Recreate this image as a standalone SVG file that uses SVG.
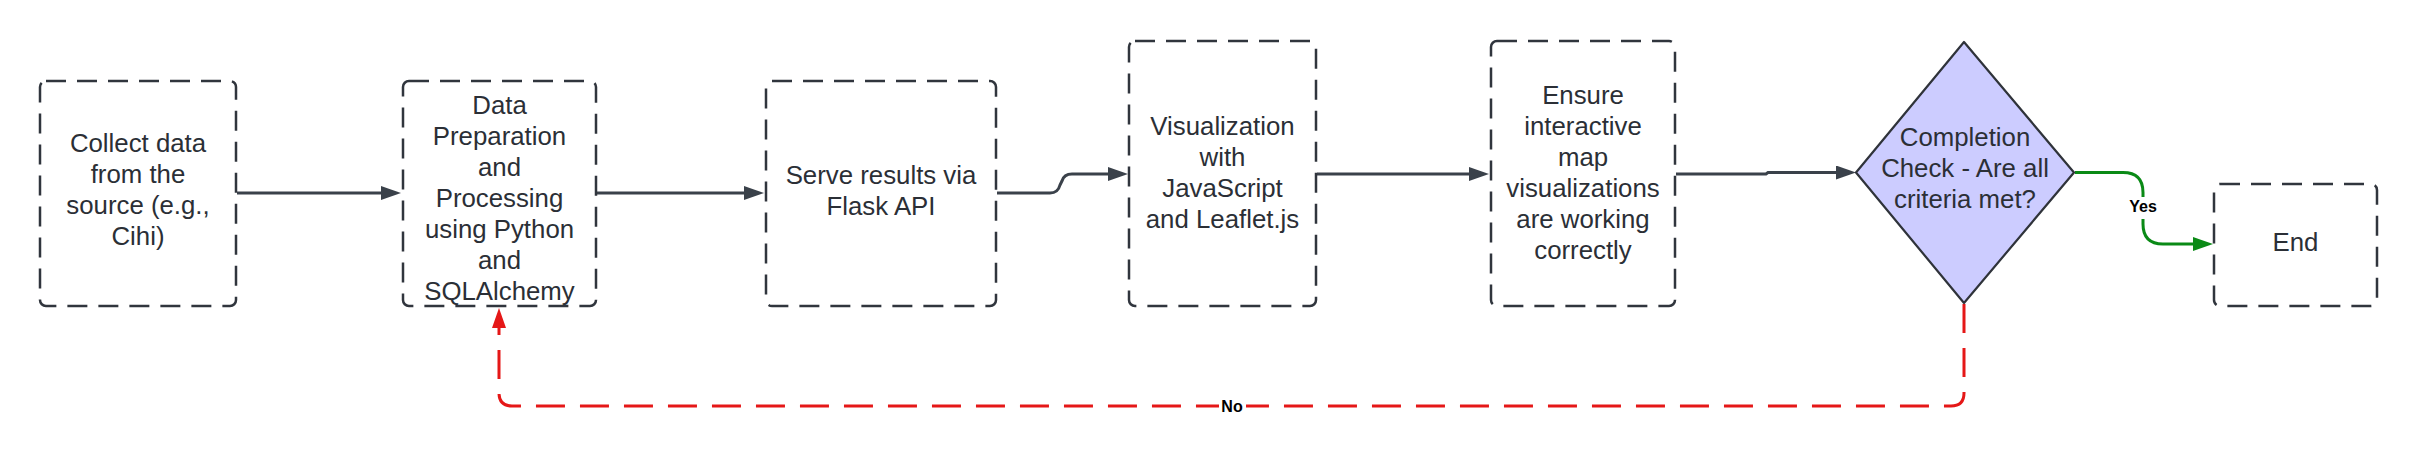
<svg xmlns="http://www.w3.org/2000/svg" width="2418" height="458" viewBox="0 0 2418 458">
<style>
.box{fill:#ffffff;stroke:#30353d;stroke-width:2.5;stroke-dasharray:20 11}
.lbl{font-family:"Liberation Sans",Arial,sans-serif;font-size:25.8px;fill:#2b2f36;text-anchor:middle}
.edge{fill:none;stroke:#3a414a;stroke-width:3}
.yes{fill:none;stroke:#0a8a16;stroke-width:3}
.no{fill:none;stroke:#e51717;stroke-width:3;stroke-dasharray:29 15}
.elbl{font-family:"Liberation Sans",Arial,sans-serif;font-size:16px;font-weight:bold;fill:#000000;text-anchor:middle}
</style>
<defs>
<marker id="ah" viewBox="0 0 20 14" refX="4" refY="7" markerWidth="20" markerHeight="14" markerUnits="userSpaceOnUse" orient="auto"><path d="M0,0 L20,7 L0,14 z" fill="#3a414a"/></marker>
<marker id="ahg" viewBox="0 0 20 14" refX="4" refY="7" markerWidth="20" markerHeight="14" markerUnits="userSpaceOnUse" orient="auto"><path d="M0,0 L20,7 L0,14 z" fill="#0a8a16"/></marker>
<marker id="ahr" viewBox="0 0 20 14" refX="4" refY="7" markerWidth="20" markerHeight="14" markerUnits="userSpaceOnUse" orient="auto"><path d="M0,0 L20,7 L0,14 z" fill="#e51717"/></marker>
</defs>
<rect width="2418" height="458" fill="#ffffff"/>

<g id="connectors">
<path class="edge" d="M237,193 H385" marker-end="url(#ah)"/>
<path class="edge" d="M597,193 H748" marker-end="url(#ah)"/>
<path class="edge" d="M997,193 H1050 Q1058,193 1060,185 L1062,181 Q1064,174 1072,174 H1112" marker-end="url(#ah)"/>
<path class="edge" d="M1317,174 H1473" marker-end="url(#ah)"/>
<path class="edge" d="M1676,174 H1766 L1768,172.5 H1840" marker-end="url(#ah)"/>
<path class="yes" d="M2075,172.5 H2123 Q2143,172.5 2143,192.5 V224 Q2143,244 2163,244 H2197" marker-end="url(#ahg)"/>
<path class="no" d="M1964,304 V393 Q1964,406 1951,406 H512 Q499,406 499,393 V324" marker-end="url(#ahr)"/>
<rect x="2128" y="197" width="30" height="22" fill="#ffffff"/>
<text class="elbl" x="2143" y="212">Yes</text>
<rect x="1219" y="396" width="27" height="20" fill="#ffffff"/>
<text class="elbl" x="1232" y="412">No</text>
</g>

<g id="n1">
<rect class="box" x="40" y="81" width="196" height="225" rx="6"/>
<text class="lbl"><tspan x="138" y="152">Collect data</tspan><tspan x="138" y="183">from the</tspan><tspan x="138" y="214">source (e.g.,</tspan><tspan x="138" y="245">Cihi)</tspan></text>
</g>

<g id="n2">
<rect class="box" x="403" y="81" width="193" height="225" rx="6"/>
<text class="lbl"><tspan x="499.5" y="114">Data</tspan><tspan x="499.5" y="145">Preparation</tspan><tspan x="499.5" y="176">and</tspan><tspan x="499.5" y="207">Processing</tspan><tspan x="499.5" y="238">using Python</tspan><tspan x="499.5" y="269">and</tspan><tspan x="499.5" y="300">SQLAlchemy</tspan></text>
</g>

<g id="n3">
<rect class="box" x="766" y="81" width="230" height="225" rx="6"/>
<text class="lbl"><tspan x="881" y="184">Serve results via</tspan><tspan x="881" y="215">Flask API</tspan></text>
</g>

<g id="n4">
<rect class="box" x="1129" y="41" width="187" height="265" rx="6"/>
<text class="lbl"><tspan x="1222.5" y="135">Visualization</tspan><tspan x="1222.5" y="166">with</tspan><tspan x="1222.5" y="197">JavaScript</tspan><tspan x="1222.5" y="228">and Leaflet.js</tspan></text>
</g>

<g id="n5">
<rect class="box" x="1491" y="41" width="184" height="265" rx="6"/>
<text class="lbl"><tspan x="1583" y="104">Ensure</tspan><tspan x="1583" y="135">interactive</tspan><tspan x="1583" y="166">map</tspan><tspan x="1583" y="197">visualizations</tspan><tspan x="1583" y="228">are working</tspan><tspan x="1583" y="259">correctly</tspan></text>
</g>

<g id="decision">
<polygon points="1964,42 2074,172.5 1964,303 1856,172.5" fill="#ccccff" stroke="#2f333a" stroke-width="2.2" stroke-linejoin="round"/>
<text class="lbl"><tspan x="1965" y="146">Completion</tspan><tspan x="1965" y="177">Check - Are all</tspan><tspan x="1965" y="208">criteria met?</tspan></text>
</g>

<g id="end">
<rect class="box" x="2214" y="184" width="163" height="122" rx="6"/>
<text class="lbl" x="2295.5" y="251">End</text>
</g>
</svg>
